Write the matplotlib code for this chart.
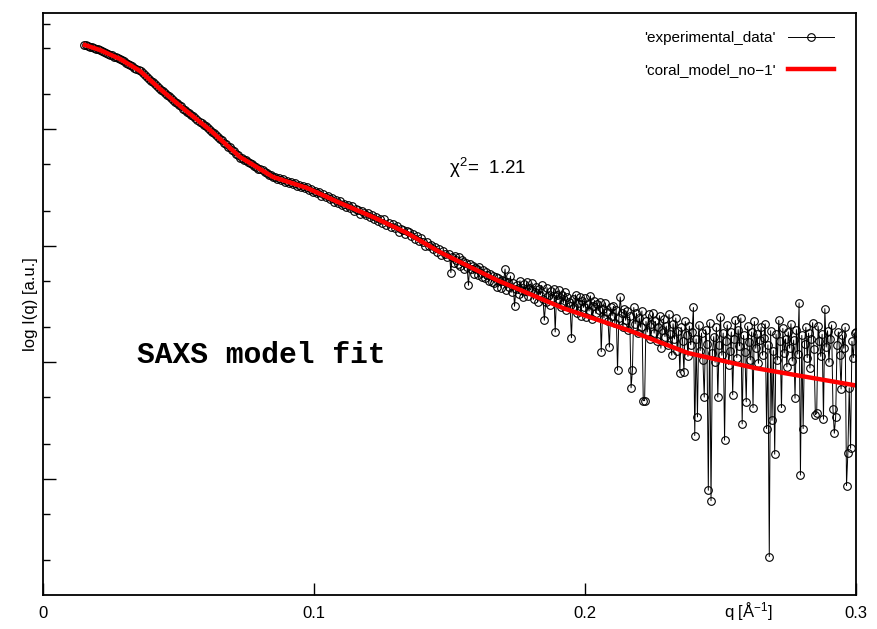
import numpy as np
import matplotlib
matplotlib.use("Agg")
import matplotlib.pyplot as plt
from matplotlib.ticker import FixedLocator, NullFormatter

plt.rcParams['font.family'] = ['Liberation Sans', 'DejaVu Sans']
plt.rcParams['mathtext.fontset'] = 'custom'
plt.rcParams['mathtext.rm'] = 'Liberation Sans'
plt.rcParams['mathtext.it'] = 'Liberation Sans'

# fitted model curve (q in 1/A, log10 intensity)
model_q = [0.0155, 0.0210, 0.0284, 0.0358, 0.0432, 0.0524, 0.0616, 0.0727, 0.0849, 0.0974,
           0.1096, 0.1218, 0.1343, 0.1465, 0.1675, 0.1919, 0.2166, 0.2380, 0.2627, 0.3000]
model_logI = [4.725, 4.682, 4.605, 4.502, 4.347, 4.167, 3.995, 3.763, 3.591, 3.497,
              3.368, 3.247, 3.110, 2.945, 2.705, 2.465, 2.270, 2.079, 1.950, 1.800]

# experimental data, low q part: uniform grid 0.015 .. 0.14925 (step 0.00075)
low_q_range = (0.015, 0.14925)
low_logI = [
    4.729, 4.722, 4.718, 4.711, 4.707, 4.699, 4.695, 4.687, 4.683, 4.673, 4.667, 4.658, 4.652, 4.642, 4.636, 4.626, 4.621, 4.611, 4.605, 4.593,
    4.584, 4.571, 4.563, 4.550, 4.542, 4.529, 4.521, 4.509, 4.499, 4.482, 4.468, 4.450, 4.437, 4.419, 4.405, 4.388, 4.374, 4.356, 4.342, 4.326,
    4.313, 4.296, 4.284, 4.267, 4.254, 4.238, 4.226, 4.208, 4.197, 4.179, 4.168, 4.150, 4.140, 4.122, 4.112, 4.094, 4.084, 4.066, 4.056, 4.038,
    4.027, 4.009, 3.999, 3.980, 3.968, 3.948, 3.937, 3.917, 3.906, 3.885, 3.875, 3.852, 3.845, 3.822, 3.814, 3.788, 3.783, 3.757, 3.756, 3.737,
    3.733, 3.716, 3.712, 3.702, 3.684, 3.681, 3.664, 3.660, 3.649, 3.630, 3.628, 3.612, 3.609, 3.588, 3.590, 3.575, 3.580, 3.566, 3.572, 3.552,
    3.560, 3.541, 3.549, 3.528, 3.538, 3.517, 3.526, 3.505, 3.515, 3.494, 3.503, 3.480, 3.491, 3.462, 3.472, 3.450, 3.458, 3.432, 3.444, 3.418,
    3.425, 3.398, 3.410, 3.380, 3.392, 3.371, 3.388, 3.350, 3.362, 3.330, 3.352, 3.322, 3.340, 3.300, 3.315, 3.310, 3.270, 3.296, 3.280, 3.262,
    3.280, 3.245, 3.262, 3.230, 3.250, 3.212, 3.226, 3.195, 3.230, 3.180, 3.200, 3.165, 3.186, 3.150, 3.172, 3.120, 3.148, 3.140, 3.105, 3.126,
    3.120, 3.085, 3.098, 3.060, 3.080, 3.040, 3.065, 3.030, 3.000, 3.035, 2.995, 3.010, 2.970, 2.990, 2.948, 2.975, 2.925, 2.955, 2.930, 2.900,
]

# experimental data, high q part: uniform grid 0.150 .. 0.300 (step 0.0005)
high_q_range = (0.150, 0.300)
high_logI = [
    2.930, 2.770, 2.905, 2.850, 2.915, 2.880, 2.840, 2.900, 2.830, 2.875,
    2.860, 2.800, 2.850, 2.815, 2.660, 2.845, 2.800, 2.830, 2.760, 2.810,
    2.800, 2.750, 2.820, 2.770, 2.730, 2.790, 2.720, 2.775, 2.745, 2.700,
    2.760, 2.690, 2.740, 2.680, 2.730, 2.650, 2.720, 2.700, 2.640, 2.710,
    2.700, 2.800, 2.620, 2.690, 2.650, 2.740, 2.600, 2.680, 2.480, 2.630,
    2.660, 2.590, 2.700, 2.620, 2.560, 2.670, 2.610, 2.690, 2.570, 2.640,
    2.620, 2.680, 2.540, 2.600, 2.650, 2.520, 2.630, 2.580, 2.660, 2.540,
    2.360, 2.520, 2.640, 2.570, 2.490, 2.610, 2.550, 2.630, 2.260, 2.580,
    2.540, 2.620, 2.470, 2.580, 2.510, 2.600, 2.450, 2.560, 2.520, 2.480,
    2.210, 2.540, 2.470, 2.580, 2.420, 2.510, 2.560, 2.400, 2.530, 2.470,
    2.550, 2.390, 2.500, 2.440, 2.570, 2.370, 2.480, 2.530, 2.420, 2.500,
    2.450, 2.520, 2.090, 2.460, 2.380, 2.510, 2.430, 2.350, 2.130, 2.470,
    2.400, 2.480, 2.340, 2.450, 1.930, 2.380, 2.560, 2.420, 2.300, 2.460,
    2.360, 2.440, 2.280, 2.400, 1.780, 1.930, 2.470, 2.330, 2.420, 2.250,
    2.380, 2.300, 2.440, 1.670, 1.670, 2.350, 2.260, 2.410, 2.200, 2.330,
    2.420, 2.250, 2.350, 2.180, 2.300, 2.400, 2.120, 2.280, 2.370, 2.220,
    2.310, 2.150, 2.410, 2.240, 2.060, 2.330, 2.200, 2.380, 2.100, 2.270,
    1.910, 2.300, 2.180, 1.920, 2.350, 2.230, 2.050, 2.310, 2.150, 2.260,
    2.470, 1.370, 2.200, 1.530, 2.320, 2.100, 2.250, 2.020, 1.700, 2.280,
    2.160, 0.900, 2.340, 0.810, 2.080, 2.220, 2.000, 2.300, 1.700, 2.150,
    2.390, 2.060, 2.250, 1.330, 2.180, 2.320, 1.980, 2.100, 2.260, 1.720,
    2.200, 2.360, 2.040, 2.280, 2.140, 2.380, 1.470, 2.230, 2.090, 1.660,
    2.310, 2.170, 2.020, 2.260, 1.610, 2.350, 2.120, 2.240, 1.990, 2.190,
    2.300, 2.060, 2.210, 2.330, 1.430, 2.150, 0.330, 2.270, 1.500, 2.100,
    1.210, 2.240, 2.020, 2.360, 2.180, 1.610, 2.290, 2.080, 2.200, 1.960,
    2.260, 2.120, 2.330, 2.010, 2.190, 1.690, 2.280, 2.070, 2.510, 1.030,
    2.230, 1.430, 2.160, 2.300, 2.040, 2.250, 1.950, 2.200, 2.340, 2.110,
    1.550, 1.560, 2.310, 2.180, 2.050, 2.240, 1.510, 2.460, 2.130, 2.270,
    2.000, 2.200, 2.320, 1.600, 1.390, 1.530, 2.150, 2.260, 2.060, 1.770,
    2.230, 2.120, 2.300, 0.940, 1.220, 1.780, 1.260, 2.180, 2.040, 2.250, 2.260,
]

chi2 = 1.21
x_ticks = [0, 0.1, 0.2, 0.3]
x_ticklabels = ['0', '0.1', '0.2', '0.3']

exp_q = np.concatenate([np.linspace(*low_q_range, len(low_logI)),
                        np.linspace(*high_q_range, len(high_logI))])
exp_I = 10 ** np.array(low_logI + high_logI)

fig = plt.figure(figsize=(8.78, 6.29), dpi=100)
ax = fig.add_axes([43 / 878, 34 / 629, 813 / 878, 582 / 629])

ax.plot(exp_q, exp_I, color='black', linewidth=0.7,
        marker='o', markersize=5.5, markerfacecolor='none', markeredgewidth=0.8,
        label="'experimental_data'")
ax.plot(model_q, 10 ** np.array(model_logI), color='#ff0000', linewidth=3.2,
        label="'coral_model_no\u22121'")

ax.set_yscale('log')
ax.set_xlim(0, 0.3)
ax.set_ylim(1, 1e5)

ax.set_xticks(x_ticks)
ax.set_xticklabels(x_ticklabels)
ax.yaxis.set_major_locator(FixedLocator([1e1, 1e2, 1e3, 1e4]))
minor = [m * 10 ** k for k in range(0, 5) for m in (2, 5)] + [8e4]
ax.yaxis.set_minor_locator(FixedLocator(minor))
ax.yaxis.set_major_formatter(NullFormatter())
ax.yaxis.set_minor_formatter(NullFormatter())

ax.tick_params(axis='both', which='major', direction='in', length=9, width=1.0,
               labelsize=12, pad=8, right=False, top=False)
ax.tick_params(axis='y', which='minor', direction='in', length=5, width=1.0, right=False)
ax.tick_params(axis='x', which='minor', bottom=False)
for sp in ax.spines.values():
    sp.set_linewidth(1.3)

ax.set_ylabel('log I(q) [a.u.]', fontsize=12)
ax.yaxis.set_label_coords(-0.0065, 0.5)
fig.text(748 / 878, 1 - 612 / 629, r'q [Å$^{-1}$]', fontsize=12, ha='center', va='center')

ax.text(137 / 878, 1 - 355 / 629, 'SAXS model fit', transform=fig.transFigure,
        family=['Liberation Mono', 'DejaVu Sans Mono'], fontweight='bold', fontsize=21.3,
        ha='left', va='center')
ax.text(449 / 878, 1 - 168 / 629, r'$\chi^2$=  %.2f' % chi2, transform=fig.transFigure,
        fontsize=13.5, ha='left', va='center')

ax.legend(loc='upper right', frameon=False, markerfirst=False, fontsize=11,
          handlelength=3.0, handletextpad=0.8, labelspacing=1.15,
          bbox_to_anchor=(0.99, 0.992))

plt.savefig('out.png', dpi=100)
plt.close()
